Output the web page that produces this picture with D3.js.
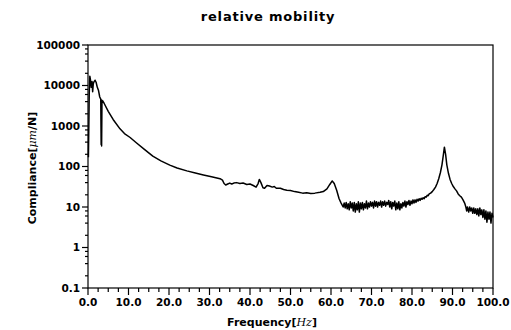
<!DOCTYPE html>
<html lang="en">
<head>
<meta charset="UTF-8">
<title>relative mobility</title>
<script src="https://d3js.org/d3.v7.min.js"></script>
<style>
  body { margin: 0; background: #fff; }
  svg { display: block; }
  .tick-label { font-family: "DejaVu Sans", sans-serif; font-weight: bold; font-size: 10.5px; fill: #000; }
  .axis-title { font-family: "DejaVu Sans", sans-serif; font-weight: bold; font-size: 11px; fill: #000; }
</style>
</head>
<body>
<svg></svg>
<script>
// Frequency [Hz] / compliance [um/N]
const lowBand = [
  [0.1, 170], [0.2, 900], [0.3, 6000], [0.45, 17000], [0.6, 14000], [0.8, 9000],
  [1.0, 12500], [1.15, 7000], [1.3, 11000], [1.5, 12500], [1.75, 13500], [2.0, 12000],
  [2.3, 9000], [2.6, 7500], [2.9, 5200], [3.15, 4600], [3.25, 350], [3.3, 4400],
  [3.36, 320], [3.45, 4300], [3.6, 4200]
];
const decayBand = [
  [4, 3600], [5, 2300], [6.2, 1450], [7.9, 850], [9, 650], [10.4, 520], [12, 380],
  [14, 260], [16, 180], [18, 138], [20.2, 108], [22, 92], [24.4, 78], [26.5, 69],
  [28.5, 62], [30.5, 56], [32.6, 50], [33.2, 46], [33.6, 38], [34, 35], [34.5, 37],
  [35, 39], [35.5, 37], [36, 39], [36.7, 40], [37.5, 38], [38.3, 39], [39.2, 36], [40, 37],
  [40.8, 34], [41.5, 31], [42, 38], [42.3, 48], [42.7, 40], [43.2, 30], [43.6, 29],
  [44.2, 34], [44.8, 33], [45.5, 31], [46, 32], [46.5, 29], [47.5, 29], [48.3, 27], [49.1, 26],
  [50, 25.5], [51, 24], [52, 23], [53, 22], [54, 22.5], [55, 21.5], [56, 22],
  [57.3, 23], [58.1, 24], [59, 28], [59.7, 36], [60.3, 44], [60.8, 38], [61.4, 26],
  [62, 16], [62.5, 12.5]
];
const noiseBand = [
  [63.0, 10], [63.25, 12.5], [63.5, 9.5], [63.75, 13], [64.0, 9], [64.25, 12], [64.5, 8.5],
  [64.75, 13.5], [65.0, 9.5], [65.25, 12.5], [65.5, 8], [65.75, 13], [66.0, 7.5], [66.25, 12],
  [66.5, 8.5], [66.75, 13.5], [67.0, 7.5], [67.25, 12.5], [67.5, 9], [67.75, 13], [68.0, 8.5],
  [68.25, 12], [68.5, 9.5], [68.75, 14], [69.0, 9], [69.25, 12.5], [69.5, 10], [69.75, 13.5],
  [70.0, 10.5], [70.25, 13], [70.5, 9.5], [70.75, 14], [71.0, 10.5], [71.25, 13.5], [71.5, 10],
  [71.75, 13], [72.0, 11], [72.25, 14], [72.5, 10], [72.75, 13.5], [73.0, 11], [73.25, 14],
  [73.5, 10.5], [73.75, 13], [74.0, 11.5], [74.25, 14.5], [74.5, 10], [74.75, 13.5], [75.0, 9],
  [75.25, 13], [75.5, 10.5], [75.75, 14], [76.0, 8.5], [76.25, 12.5], [76.5, 9], [76.75, 13.5],
  [77.0, 8.5], [77.25, 12], [77.5, 9.5], [77.75, 13], [78.0, 10.5], [78.25, 14], [78.5, 10],
  [78.75, 13.5], [79.0, 11.5], [79.25, 14.5], [79.5, 11], [79.75, 14], [80.0, 12], [80.25, 15],
  [80.5, 12.5], [80.75, 15], [81.0, 13], [81.25, 15.5], [81.5, 14], [81.75, 16], [82.0, 14.5],
  [82.25, 16.5], [82.5, 15.5], [82.75, 17], [83.0, 16], [83.25, 18], [83.5, 17.5], [83.75, 19.5],
  [84.0, 19], [84.25, 21]
];
const highBand = [
  [84.6, 22], [85.0, 24], [85.4, 27], [85.8, 31], [86.2, 38], [86.6, 50], [87.0, 70],
  [87.4, 110], [87.7, 180], [88.0, 300], [88.3, 200], [88.6, 110], [89.0, 68], [89.4, 48],
  [89.8, 38], [90.2, 32], [90.6, 28], [91.0, 25], [91.4, 21], [91.8, 19], [92.2, 17.5],
  [92.6, 15], [93.0, 12.5], [93.3, 10], [93.5, 8], [93.7, 10], [94.0, 7.5], [94.25, 10],
  [94.5, 8], [94.75, 9.5], [95.0, 7], [95.25, 9.5], [95.5, 7], [95.75, 9], [96.0, 6.5],
  [96.25, 9], [96.5, 6], [96.75, 9.5], [97.0, 6.5], [97.25, 8.5], [97.5, 5.5], [97.75, 8.5],
  [98.0, 5], [98.25, 8], [98.5, 4.2], [98.75, 7.5], [99.0, 5], [99.25, 7.5], [99.5, 4],
  [99.75, 7], [100, 5.5]
];

const xTicks = [0, 10, 20, 30, 40, 50, 60, 70, 80, 90, 100];
const yTicks = [0.1, 1, 10, 100, 1000, 10000, 100000];
const yTickLabels = ["0.1", "1", "10", "100", "1000", "10000", "100000"];

const width = 511, height = 330;
const margin = { top: 45, right: 18, bottom: 42, left: 88 };
const plotW = 493 - margin.left, plotH = 288 - margin.top;

const svg = d3.select("svg").attr("width", width).attr("height", height);
const g = svg.append("g").attr("transform", `translate(${margin.left},${margin.top})`);

const x = d3.scaleLinear().domain([0, 100]).range([0, plotW]);
const y = d3.scaleLog().domain([0.1, 100000]).range([plotH, 0]);

// frame
g.append("rect").attr("width", plotW).attr("height", plotH)
  .attr("fill", "none").attr("stroke", "#000").attr("stroke-width", 1.2);

// x axis ticks
const xMinor = d3.range(0, 100.01, 2.5).filter(v => v % 10 !== 0);
g.selectAll(".xminor").data(xMinor).enter().append("line")
  .attr("x1", d => x(d)).attr("x2", d => x(d))
  .attr("y1", plotH).attr("y2", plotH + 4)
  .attr("stroke", "#000").attr("stroke-width", 1.2);
g.selectAll(".xmajor").data(xTicks).enter().append("line")
  .attr("x1", d => x(d)).attr("x2", d => x(d))
  .attr("y1", plotH).attr("y2", plotH + 7)
  .attr("stroke", "#000").attr("stroke-width", 1.2);
g.selectAll(".xlab").data(xTicks).enter().append("text")
  .attr("class", "tick-label")
  .attr("x", d => x(d)).attr("y", plotH + 18)
  .attr("text-anchor", "middle")
  .text(d => d.toFixed(1));

// y axis ticks
const yMinor = [];
yTicks.slice(0, -1).forEach(t => [2, 4, 6, 8].forEach(m => yMinor.push(t * m)));
g.selectAll(".yminor").data(yMinor).enter().append("line")
  .attr("x1", -3).attr("x2", 0)
  .attr("y1", d => y(d)).attr("y2", d => y(d))
  .attr("stroke", "#000").attr("stroke-width", 1.2);
g.selectAll(".ymajor").data(yTicks).enter().append("line")
  .attr("x1", -6).attr("x2", 0)
  .attr("y1", d => y(d)).attr("y2", d => y(d))
  .attr("stroke", "#000").attr("stroke-width", 1.2);
g.selectAll(".ylab").data(yTicks).enter().append("text")
  .attr("class", "tick-label")
  .attr("x", -8).attr("y", d => y(d)).attr("dy", "0.35em")
  .attr("text-anchor", "end")
  .text((d, i) => yTickLabels[i]);

// curve
const data = [...lowBand, ...decayBand, ...noiseBand, ...highBand];
const line = d3.line().x(d => x(d[0])).y(d => y(d[1]));
g.append("path").datum(data)
  .attr("fill", "none").attr("stroke", "#000").attr("stroke-width", 1.5)
  .attr("stroke-linejoin", "round")
  .attr("d", line);

// titles
svg.append("text").attr("class", "axis-title")
  .attr("x", 268).attr("y", 21).attr("text-anchor", "middle")
  .style("font-size", "13px").style("letter-spacing", "0.8px")
  .text("relative  mobility");

const xt = svg.append("text").attr("class", "axis-title")
  .attr("x", 272).attr("y", 326).attr("text-anchor", "middle");
xt.append("tspan").text("Frequency[");
xt.append("tspan").style("font-family", "'DejaVu Serif', serif").style("font-style", "italic").style("font-weight", "normal").text("Hz");
xt.append("tspan").text("]");

const yt = svg.append("text").attr("class", "axis-title")
  .attr("transform", "translate(36,168) rotate(-90)").attr("text-anchor", "middle");
yt.append("tspan").text("Compliance[");
yt.append("tspan").style("font-family", "'DejaVu Serif', serif").style("font-style", "italic").style("font-weight", "normal").text("μm");
yt.append("tspan").text("/N]");
</script>
</body>
</html>
